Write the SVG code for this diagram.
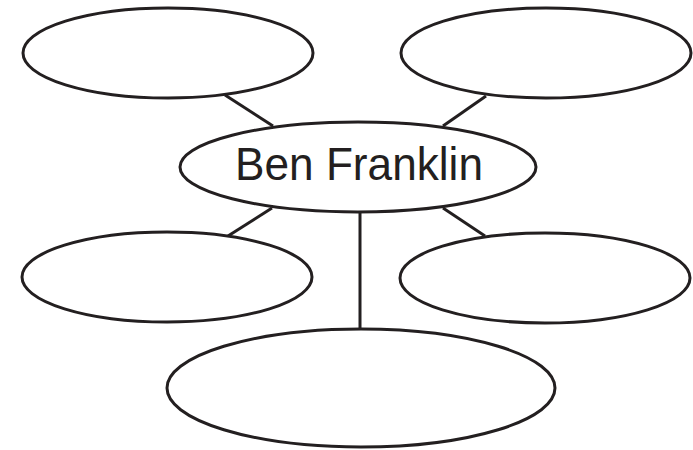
<svg xmlns="http://www.w3.org/2000/svg" width="693" height="450" viewBox="0 0 693 450">
<style>
.n{fill:#fff;stroke:#231f20;stroke-width:3}
.c{stroke:#231f20;stroke-width:3;fill:none}
.t{font-family:"Liberation Sans",Arial,sans-serif;font-size:46px;fill:#231f20;text-anchor:middle}
</style>
<rect width="693" height="450" fill="#fff"/>
<g id="connectors">
<line class="c" x1="225" y1="95" x2="273" y2="126"/>
<line class="c" x1="486" y1="96" x2="443" y2="126"/>
<line class="c" x1="272" y1="208" x2="228" y2="236"/>
<line class="c" x1="443" y1="208" x2="485" y2="236"/>
<line class="c" x1="360" y1="212" x2="360" y2="330"/>
</g>
<g id="node-top-left"><ellipse class="n" cx="168" cy="53" rx="145" ry="45"/></g>
<g id="node-top-right"><ellipse class="n" cx="546" cy="53" rx="145" ry="45"/></g>
<g id="node-center"><ellipse class="n" cx="358" cy="167" rx="178" ry="45"/>
<text class="t" x="359" y="180" textLength="248" lengthAdjust="spacingAndGlyphs">Ben Franklin</text></g>
<g id="node-mid-left"><ellipse class="n" cx="167" cy="277" rx="145" ry="45"/></g>
<g id="node-mid-right"><ellipse class="n" cx="545" cy="278" rx="145" ry="45"/></g>
<g id="node-bottom"><ellipse class="n" cx="361" cy="388" rx="194" ry="59"/></g>
</svg>
